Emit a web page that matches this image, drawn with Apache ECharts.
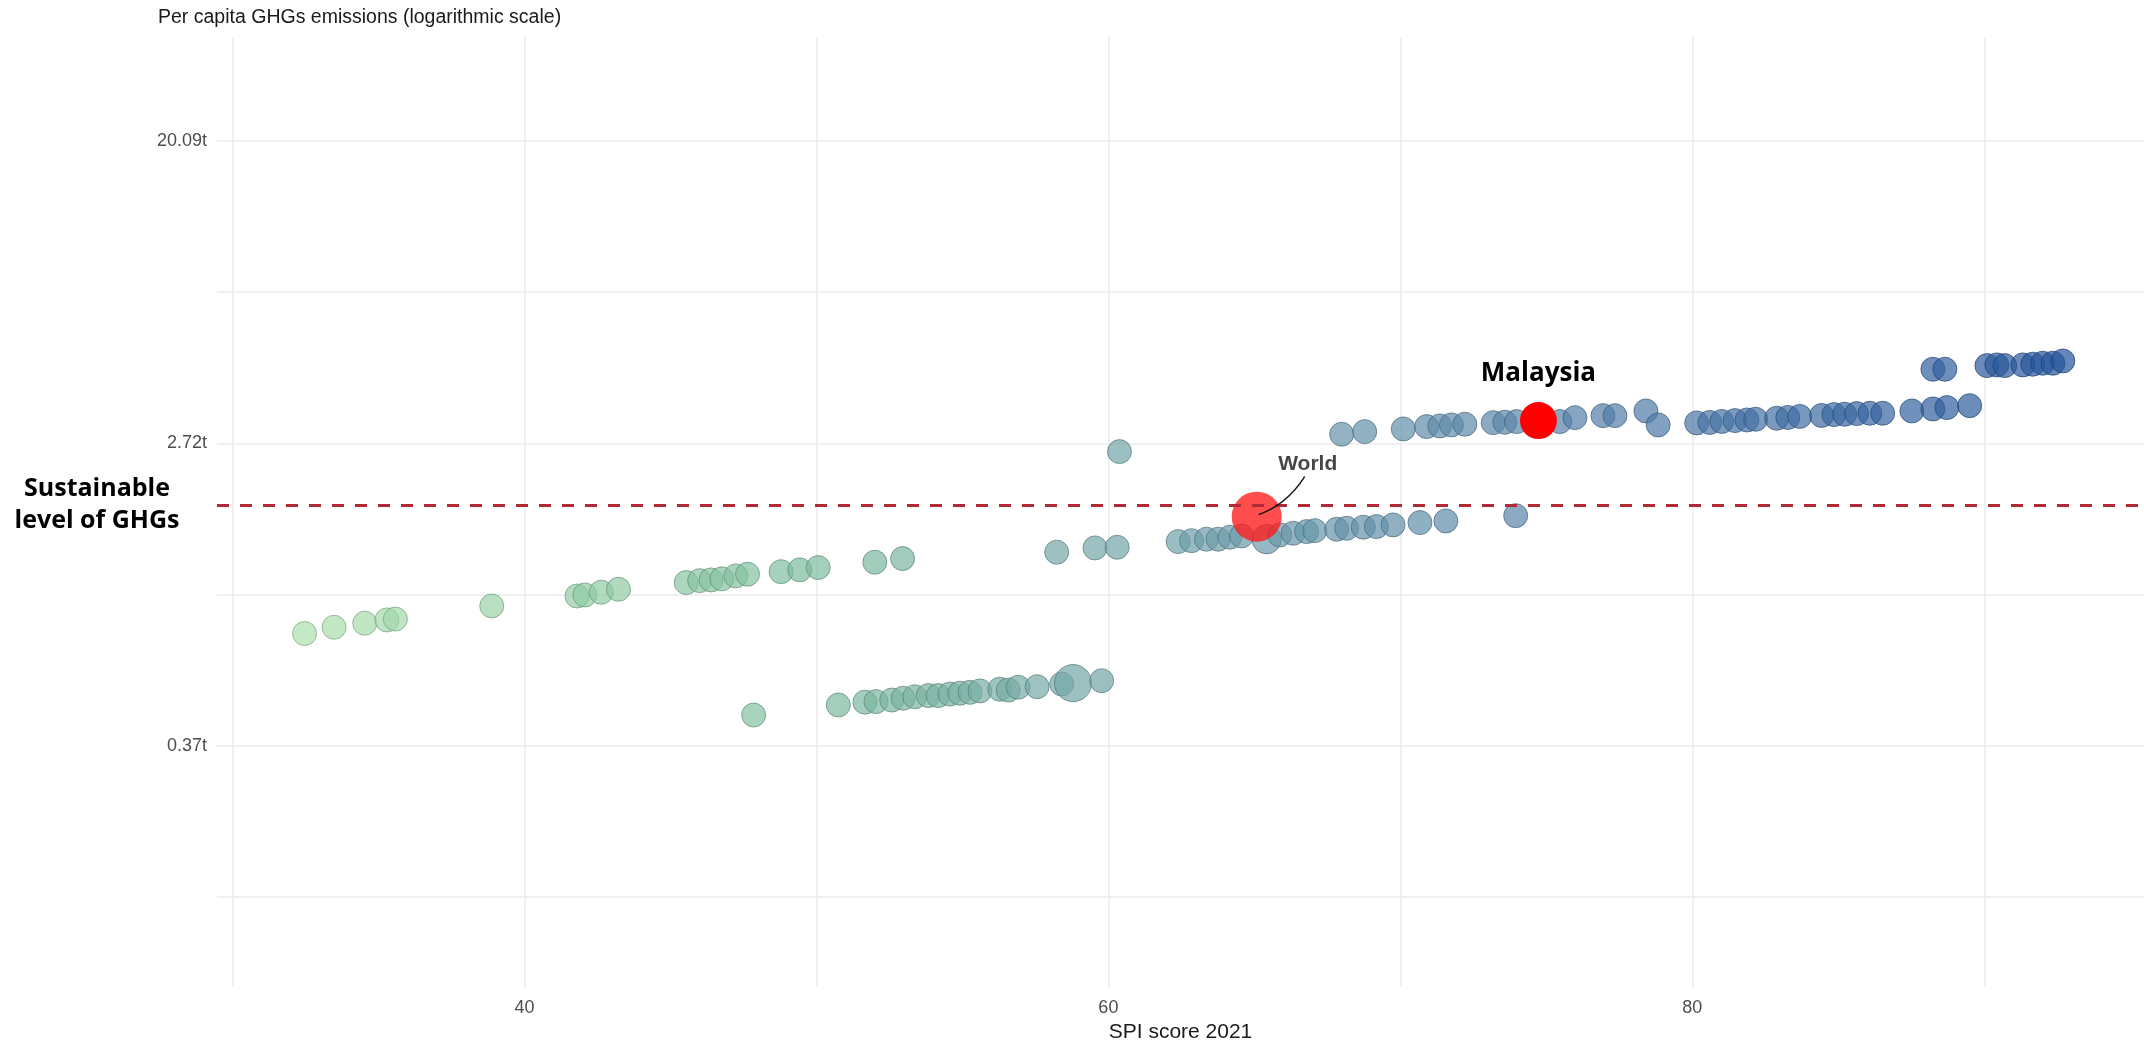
<!DOCTYPE html>
<html>
<head>
<meta charset="utf-8">
<script src="https://cdn.jsdelivr.net/npm/echarts@6/dist/echarts.min.js"></script>
<style>
  html, body { margin: 0; padding: 0; background: #ffffff; }
  #chart { width: 2144px; height: 1040px; }
</style>
</head>
<body>
<div id="chart"></div>
<script>
// SPI score 2021 against per-capita greenhouse-gas emissions, one bubble per country.

const spiScore = [
  32.47, 33.48, 34.53, 35.29, 35.58, 38.88, 41.80, 42.07, 42.63, 43.22,
  45.54, 46.00, 46.39, 46.76, 47.24, 47.64, 48.79, 49.43, 50.06, 52.00, 52.95,
  47.85, 50.75, 51.66, 52.04, 52.58, 52.97, 53.37, 53.83, 54.17, 54.57,
  54.91, 55.26, 55.60, 56.28, 56.57, 56.91, 57.56, 58.40, 58.79, 59.77,
  58.23, 59.54, 60.30, 62.39, 62.85, 63.36, 63.76, 64.16, 64.56, 65.42,
  65.87, 66.33, 66.79, 67.07, 67.82, 68.16, 68.73, 69.18, 69.75, 70.67,
  71.56, 73.95, 60.38,
  67.99, 68.78, 70.10, 70.90, 71.35, 71.75, 72.21, 73.18, 73.58, 73.98,
  75.46, 75.98, 76.94, 77.35, 78.41, 78.83, 80.15, 80.60, 81.01, 81.46,
  81.87, 82.17, 82.89, 83.27, 83.68, 84.43, 84.85, 85.22, 85.63, 86.08,
  86.52, 87.52, 88.24, 88.72, 89.50,
  88.24, 88.65, 90.09, 90.43, 90.70, 91.32, 91.66, 92.00, 92.35, 92.69
];

// tonnes of CO2-equivalent per person
const ghgPerCapita = [
  0.773, 0.806, 0.828, 0.846, 0.851, 0.928, 0.991, 0.998, 1.016, 1.036,
  1.083, 1.097, 1.102, 1.110, 1.132, 1.145, 1.164, 1.178, 1.196, 1.239, 1.269,
  0.451, 0.482, 0.491, 0.493, 0.498, 0.504, 0.509, 0.513, 0.513, 0.518,
  0.521, 0.524, 0.529, 0.535, 0.532, 0.542, 0.544, 0.554, 0.557, 0.566,
  1.324, 1.362, 1.368, 1.420, 1.429, 1.443, 1.443, 1.462, 1.474, 1.443,
  1.484, 1.501, 1.517, 1.527, 1.541, 1.551, 1.562, 1.568, 1.586, 1.610,
  1.628, 1.686, 2.575,
  2.889, 2.939, 2.992, 3.038, 3.052, 3.072, 3.086, 3.119, 3.127, 3.140,
  3.140, 3.224, 3.267, 3.267, 3.370, 3.072, 3.113, 3.123, 3.144, 3.161,
  3.175, 3.190, 3.211, 3.228, 3.250, 3.271, 3.289, 3.297, 3.311, 3.319,
  3.319, 3.370, 3.415, 3.445, 3.490,
  4.440, 4.440, 4.548, 4.569, 4.548, 4.569, 4.590, 4.620, 4.620, 4.691
];

// relative population weight (bubble area)
const popWeight = [
  1, 1, 1, 1, 1, 1, 1, 1, 1, 1,
  1, 1, 1, 1, 1, 1, 1, 1, 1, 1, 1,
  1, 1, 1, 1, 1, 1, 1, 1, 1, 1,
  1, 1, 1, 1, 1, 1, 1, 1, 2.4, 1,
  1, 1, 1, 1, 1, 1, 1, 1, 1, 1.5,
  1, 1, 1, 1, 1, 1, 1, 1, 1, 1,
  1, 1, 1,
  1, 1, 1, 1, 1, 1, 1, 1, 1, 1,
  1, 1, 1, 1, 1, 1, 1, 1, 1, 1,
  1, 1, 1, 1, 1, 1, 1, 1, 1, 1,
  1, 1, 1, 1, 1,
  1, 1, 1, 1, 1, 1, 1, 1, 1, 1
];

const highlightNames = ['World', 'Malaysia'];
const highlightSpi = [65.08, 74.73];
const highlightGhg = [1.675, 3.161];

const sustainableLevel = 1.81;   // t per person

const xTickLabels = [40, 60, 80];
const yTickExponents = [-1, 1, 3];          // natural-log positions of the labelled ticks
const yTickLabels = ['0.37t', '2.72t', '20.09t'];

// ---- styling helpers ----
const colorStops = [
  [32, [172, 225, 172]],
  [50, [125, 187, 158]],
  [62, [112, 160, 170]],
  [75, [88, 131, 170]],
  [93, [35, 83, 154]]
];
function spiColor(s) {
  if (s <= colorStops[0][0]) return colorStops[0][1];
  for (let i = 1; i < colorStops.length; i++) {
    const [s1, c1] = colorStops[i];
    const [s0, c0] = colorStops[i - 1];
    if (s <= s1) {
      const t = (s - s0) / (s1 - s0);
      return c0.map((v, k) => Math.round(v + (c1[k] - v) * t));
    }
  }
  return colorStops[colorStops.length - 1][1];
}
function rgb(c) { return 'rgb(' + c.join(',') + ')'; }
function darker(c, f) { return c.map(v => Math.round(v * f)); }

const countryData = spiScore.map((s, i) => {
  const c = spiColor(s);
  return {
    value: [s, ghgPerCapita[i], popWeight[i]],
    itemStyle: { color: rgb(c), borderColor: rgb(darker(c, 0.72)) }
  };
});

const TEXT_FONT = '"Liberation Sans", Arial, sans-serif';
const NOTE_FONT = '"Open Sans", "Liberation Sans", sans-serif';

const xMin = 29.47, xMax = 95.47;
const yLnMin = -2.595, yLnMax = 3.688;

const chart = echarts.init(document.getElementById('chart'), null, { renderer: 'canvas' });

chart.setOption({
  backgroundColor: '#ffffff',
  animation: false,
  title: {
    text: 'Per capita GHGs emissions (logarithmic scale)',
    left: 158, top: 8, padding: 0,
    textStyle: { fontFamily: TEXT_FONT, fontSize: 19.5, fontWeight: 'normal', color: '#1a1a1a' }
  },
  grid: { left: 217, right: 0, top: 37, bottom: 53, containLabel: false, outerBoundsMode: 'none' },
  xAxis: {
    type: 'value',
    min: xMin, max: xMax,
    minInterval: 10, maxInterval: 10,
    name: 'SPI score 2021',
    nameLocation: 'middle',
    nameGap: 35,
    nameTextStyle: { fontFamily: TEXT_FONT, fontSize: 21, color: '#1a1a1a' },
    axisLine: { show: false },
    axisTick: { show: false },
    axisLabel: {
      showMinLabel: false, showMaxLabel: false,
      margin: 12,
      fontFamily: TEXT_FONT, fontSize: 18, color: '#4d4d4d',
      formatter: v => (xTickLabels.indexOf(Math.round(v)) >= 0 && Math.abs(v - Math.round(v)) < 1e-6) ? String(Math.round(v)) : ''
    },
    splitLine: { show: true, showMinLine: false, showMaxLine: false, lineStyle: { color: '#ebebeb', width: 1.5 } }
  },
  yAxis: {
    type: 'log',
    logBase: Math.E,
    min: Math.exp(yLnMin), max: Math.exp(yLnMax),
    axisLine: { show: false },
    axisTick: { show: false },
    axisLabel: {
      showMinLabel: false, showMaxLabel: false,
      margin: 10,
      fontFamily: TEXT_FONT, fontSize: 18, color: '#4d4d4d',
      formatter: v => {
        const ln = Math.log(v), k = Math.round(ln);
        if (Math.abs(ln - k) > 1e-6) return '';
        const i = yTickExponents.indexOf(k);
        return i >= 0 ? yTickLabels[i] : '';
      }
    },
    splitLine: { show: true, showMinLine: false, showMaxLine: false, lineStyle: { color: '#ebebeb', width: 1.5 } }
  },
  series: [
    {
      type: 'scatter',
      name: 'Countries',
      data: countryData,
      symbolSize: v => 24 * Math.sqrt(v[2]),
      itemStyle: { opacity: 0.7, borderWidth: 1 },
      z: 2
    },
    {
      type: 'scatter',
      name: highlightNames[0],
      data: [[highlightSpi[0], highlightGhg[0]]],
      symbolSize: 50,
      itemStyle: { color: '#ff1a1a', opacity: 0.78 },
      label: {
        show: true, position: 'inside', offset: [51, -52],
        formatter: highlightNames[0],
        fontFamily: TEXT_FONT, fontSize: 21, fontWeight: 'bold', color: '#111111'
      },
      z: 3
    },
    {
      type: 'scatter',
      name: 'Sustainable level',
      data: [],
      markLine: {
        silent: true,
        symbol: ['none', 'none'],
        label: { show: false },
        lineStyle: { color: '#b22a35', width: 3, type: [12, 11] },
        data: [{ yAxis: sustainableLevel }]
      },
      z: 4
    },
    {
      type: 'scatter',
      name: highlightNames[1],
      data: [[highlightSpi[1], highlightGhg[1]]],
      symbolSize: 37,
      itemStyle: { color: '#ff0000', opacity: 1 },
      label: {
        show: true, position: 'inside', offset: [0, -47],
        formatter: highlightNames[1],
        fontFamily: NOTE_FONT, fontSize: 26, fontWeight: 'bold', color: '#000000'
      },
      z: 5
    }
  ]
});

// Annotations placed from the axes' own scales
const worldPx = chart.convertToPixel({ seriesIndex: 1 }, [highlightSpi[0], highlightGhg[0]]);
const lineY = chart.convertToPixel({ yAxisIndex: 0 }, sustainableLevel);

chart.setOption({
  graphic: [
    {
      type: 'text',
      x: 97, y: lineY,
      style: {
        text: 'Sustainable\nlevel of GHGs',
        align: 'center', verticalAlign: 'middle',
        font: 'bold 25px ' + NOTE_FONT,
        lineHeight: 32,
        fill: '#000000'
      },
      z: 10
    },
    {
      type: 'bezierCurve',
      shape: {
        x1: worldPx[0] + 48, y1: worldPx[1] - 40,
        x2: worldPx[0] + 2, y2: worldPx[1] - 2,
        cpx1: worldPx[0] + 30, cpy1: worldPx[1] - 12
      },
      style: { stroke: '#111111', lineWidth: 1.4, fill: null },
      z: 10
    }
  ]
});
</script>
</body>
</html>
